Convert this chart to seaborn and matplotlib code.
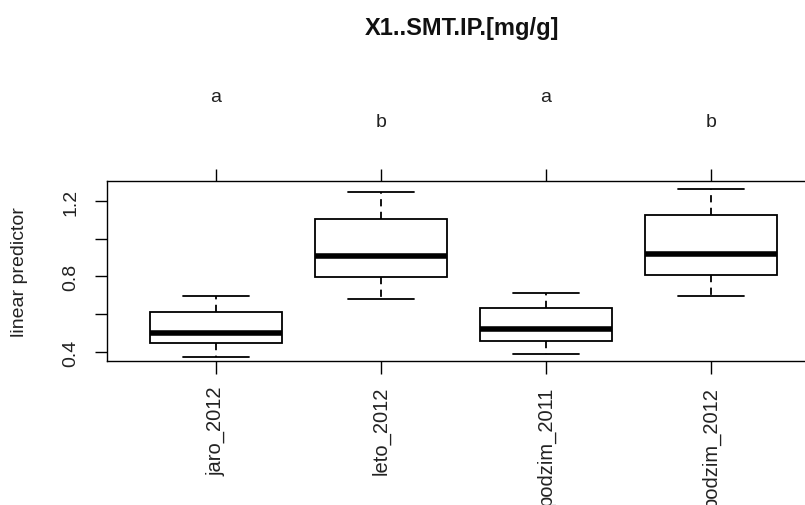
import numpy as np
import pandas as pd
import seaborn as sns
import matplotlib
matplotlib.use("Agg")
import matplotlib.pyplot as plt
import matplotlib.transforms as mtransforms

# five-number summaries (lower whisker, Q1, median, Q3, upper whisker)
categories = ["jaro_2012", "leto_2012", "podzim_2011", "podzim_2012"]
jaro_2012 = [0.374, 0.448, 0.500, 0.612, 0.697]
leto_2012 = [0.678, 0.798, 0.909, 1.106, 1.249]
podzim_2011 = [0.389, 0.458, 0.522, 0.633, 0.713]
podzim_2012 = [0.697, 0.808, 0.920, 1.127, 1.265]
letters = ["a", "b", "a", "b"]
letter_heights = [1.467, 1.328, 1.467, 1.328]   # axes-fraction heights of the letters
yticks = [0.4, 0.6, 0.8, 1.0, 1.2]
yticklabels = ["0.4", "", "0.8", "", "1.2"]
title = "X1..SMT.IP.[mg/g]"

series = [jaro_2012, leto_2012, podzim_2011, podzim_2012]
df = pd.DataFrame({
    "group": np.repeat(categories, [len(s) for s in series]),
    "value": np.concatenate(series),
})

sns.set_theme(style="white")
plt.rcParams["font.family"] = ["Liberation Sans", "DejaVu Sans"]

fig = plt.figure(figsize=(8.05, 5.06), dpi=100)
ax = fig.add_axes([107 / 805, 144 / 506, 712.8 / 805, 180 / 506])

sns.boxplot(
    data=df, x="group", y="value", order=categories, ax=ax,
    whis=np.inf, width=0.8, color="white", linecolor="black", linewidth=1.3,
    boxprops=dict(facecolor="white", edgecolor="black", linewidth=1.3),
    medianprops=dict(color="black", linewidth=4),
    whiskerprops=dict(color="black", linestyle=(0, (4, 3)), linewidth=1.3),
    capprops=dict(color="black", linewidth=1.3),
    showfliers=False,
)

ax.set_xlim(-0.66, 3.66)
ax.set_ylim(0.352, 1.306)
ax.set_yticks(yticks)
ax.set_yticklabels(yticklabels)
ax.set_xticks(range(len(categories)))
ax.set_xticklabels(categories, rotation=90)

for sp in ["left", "top", "bottom"]:
    ax.spines[sp].set_visible(True)
    ax.spines[sp].set_color("black")
    ax.spines[sp].set_linewidth(1.0)
ax.spines["right"].set_visible(False)

ax.tick_params(axis="x", which="both", direction="out", length=9, width=1.0,
               color="black", top=True, bottom=True, labeltop=False,
               labelsize=14.5, pad=9, labelcolor="#222222")
ax.tick_params(axis="y", which="both", direction="out", length=9, width=1.0,
               color="black", left=True, labelsize=14, pad=11, labelcolor="#222222")
for lab in ax.get_yticklabels():
    lab.set_rotation(90)
    lab.set_va("center")

ax.set_xlabel("")
ax.set_ylabel("linear predictor", fontsize=14, color="#222222")
ax.yaxis.set_label_coords(-0.111, 0.5)

trans = mtransforms.blended_transform_factory(ax.transData, ax.transAxes)
for i, (lt, h) in enumerate(zip(letters, letter_heights)):
    ax.text(i, h, lt, transform=trans, ha="center", va="center",
            fontsize=14, color="#222222", clip_on=False)

fig.text(462 / 805, 1 - 28 / 506, title, ha="center", va="center",
         fontsize=17, fontweight="bold", color="#111111")

fig.savefig("out.png", dpi=100, facecolor="white")
